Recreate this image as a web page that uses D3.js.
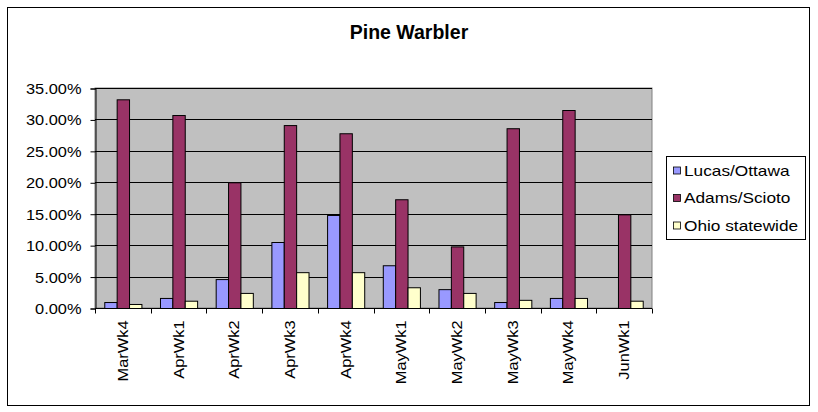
<!DOCTYPE html>
<html>
<head>
<meta charset="utf-8">
<script src="https://cdn.jsdelivr.net/npm/d3@7"></script>
<style>
  html, body { margin: 0; padding: 0; background: #fff; }
  svg { display: block; font-family: "Liberation Sans", Arial, sans-serif; }
</style>
</head>
<body>
<svg id="chart" width="818" height="412"></svg>
<script>
const title = "Pine Warbler";
const categories = ["MarWk4","AprWk1","AprWk2","AprWk3","AprWk4","MayWk1","MayWk2","MayWk3","MayWk4","JunWk1"];
const seriesNames = ["Lucas/Ottawa","Adams/Scioto","Ohio statewide"];
const lucasOttawa = [0.0095, 0.016, 0.046, 0.105, 0.148, 0.068, 0.030, 0.0095, 0.016, 0];
const adamsScioto = [0.332, 0.307, 0.200, 0.291, 0.278, 0.173, 0.098, 0.286, 0.315, 0.149];
const ohioStatewide = [0.0064, 0.0116, 0.024, 0.057, 0.057, 0.033, 0.024, 0.013, 0.016, 0.0116];
const yTicks = [0, 0.05, 0.10, 0.15, 0.20, 0.25, 0.30, 0.35];
const colors = ["#9999FF", "#993366", "#FFFFCC"];

const seriesValues = [lucasOttawa, adamsScioto, ohioStatewide];
const svg = d3.select("#chart");

const plot = {left: 95, right: 652, top: 88, bottom: 308};

// outer border
svg.append("rect").attr("x", 7.5).attr("y", 7.5).attr("width", 802).attr("height", 398)
  .attr("fill", "#fff").attr("stroke", "#000").attr("stroke-width", 1);

const x0 = d3.scaleBand().domain(categories).range([plot.left, plot.right]).paddingInner(0).paddingOuter(0);
const bw = x0.bandwidth() / 4.5;
const x1 = d3.scaleBand().domain(seriesNames).range([0, bw * 3]);
const y = d3.scaleLinear().domain([0, 0.35]).range([plot.bottom, plot.top]);

function stretch(sel, f) {
  sel.each(function() {
    const len = this.getComputedTextLength();
    d3.select(this).attr("textLength", len * f).attr("lengthAdjust", "spacingAndGlyphs");
  });
}

// plot background
svg.append("rect").attr("x", plot.left).attr("y", plot.top)
  .attr("width", plot.right - plot.left).attr("height", plot.bottom - plot.top)
  .attr("fill", "#C0C0C0").attr("stroke", "#808080").attr("stroke-width", 1);

// gridlines
svg.append("g").selectAll("line").data(yTicks.filter(t => t > 0)).join("line")
  .attr("x1", plot.left).attr("x2", plot.right)
  .attr("y1", d => Math.round(y(d)) + 0.5).attr("y2", d => Math.round(y(d)) + 0.5)
  .attr("stroke", "#000").attr("stroke-width", 1);

// bars
const groups = svg.append("g").selectAll("g").data(categories).join("g")
  .attr("transform", d => `translate(${x0(d) + bw * 0.75},0)`);
groups.selectAll("rect").data((d, i) => seriesNames.map((s, j) => ({s, j, v: seriesValues[j][i]})))
  .join("rect")
  .filter(d => d.v > 0)
  .attr("x", d => x1(d.s) + 0.5)
  .attr("y", d => y(d.v) + 0.5)
  .attr("width", x1.bandwidth())
  .attr("height", d => Math.max(0, y(0) - y(d.v)))
  .attr("fill", d => colors[d.j])
  .attr("stroke", "#000").attr("stroke-width", 1);

// Y axis
const yAxis = d3.axisLeft(y).tickValues(yTicks).tickFormat(d3.format(".2%")).tickSize(5).tickPadding(9);
const yg = svg.append("g").attr("transform", `translate(${plot.left + 0.5},0.5)`).call(yAxis);
yg.select(".domain").attr("stroke", "#000");
yg.selectAll(".tick line").attr("stroke", "#000");
yg.selectAll(".tick text").attr("font-size", 14).attr("fill", "#000")
  .attr("font-family", "'Liberation Sans', Arial, sans-serif").attr("dy", "0.36em");
stretch(yg.selectAll(".tick text"), 1.17);

// X axis
const xg = svg.append("g").attr("transform", `translate(0,${plot.bottom + 0.5})`);
xg.append("line").attr("x1", plot.left).attr("x2", plot.right).attr("stroke", "#000");
const boundaries = categories.map(c => x0(c)).concat([plot.right]);
xg.selectAll("line.tk").data(boundaries).join("line").attr("class", "tk")
  .attr("x1", d => Math.round(d) + 0.5).attr("x2", d => Math.round(d) + 0.5)
  .attr("y1", 0).attr("y2", 5).attr("stroke", "#000");
const xl = xg.selectAll("text").data(categories).join("text")
  .attr("transform", d => `translate(${x0(d) + x0.bandwidth() / 2 + 5},12) rotate(-90)`)
  .attr("text-anchor", "end")
  .attr("font-size", 14).attr("fill", "#000")
  .text(d => d);
stretch(xl, 1.17);

// title
svg.append("text").attr("x", 409).attr("y", 39).attr("text-anchor", "middle")
  .attr("font-size", 19.5).attr("font-weight", "bold").attr("fill", "#000").text(title);

// legend
const lg = svg.append("g");
lg.append("rect").attr("x", 666.5).attr("y", 156.5).attr("width", 139).attr("height", 83)
  .attr("fill", "#fff").attr("stroke", "#000");
const items = lg.selectAll("g").data(seriesNames).join("g")
  .attr("transform", (d, i) => `translate(0,${170.5 + i * 27.5})`);
items.append("rect").attr("x", 673.5).attr("y", -3.5).attr("width", 7).attr("height", 7)
  .attr("fill", (d, i) => colors[i]).attr("stroke", "#000").attr("stroke-width", 0.8);
const lt = items.append("text").attr("x", 684).attr("y", 0).attr("dy", "0.36em")
  .attr("font-size", 15).attr("fill", "#000").text(d => d);
stretch(lt, 1.15);
</script>
</body>
</html>
